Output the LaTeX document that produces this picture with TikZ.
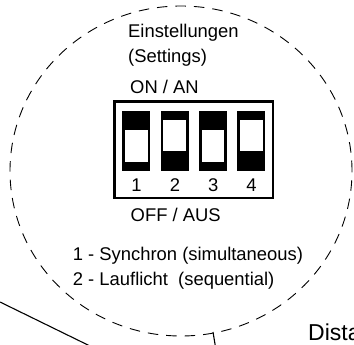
\documentclass[tikz,border=0pt]{standalone}
\usepackage{fontspec}
\setmainfont{Liberation Sans}
\usepackage{tikz}

\tikzset{
    label/.style={anchor=base west,inner sep=0pt,font=\fontsize{18.4}{21}\selectfont},
    num/.style={anchor=base,inner sep=0pt,font=\fontsize{18.4}{21}\selectfont},
    switch/.style={fill=black,inner sep=0pt,minimum width=28pt,minimum height=60pt},
    slot/.style={fill=white,inner sep=0pt,minimum width=22.5pt,minimum height=31.5pt},
}

\begin{document}
\begin{tikzpicture}[x=1pt,y=-1pt]
    \useasboundingbox (0,0) rectangle (354,345);
    \clip (0,0) rectangle (354,345);
    % dashed circle round the settings
    \draw[line width=0.9pt,dash pattern=on 10.5pt off 8pt] (181,171) ellipse [x radius=171pt, y radius=165pt];
    \node[label] (title) at (128,37.5) {Einstellungen};
    \node[label] (settings) at (128,63) {(Settings)};
    \node[label] (on) at (130,94) {ON / AN};
    % DIP switch block
    \draw[line width=2.7pt] (114.7,101.3) rectangle (272.9,198);
    \node[switch] (s1) at (136.3,141) {};
    \node[switch] (s2) at (174.7,141) {};
    \node[switch] (s3) at (213,141) {};
    \node[switch] (s4) at (251.3,141) {};
    \node[slot] (w1) at (136.3,145.9) {};
    \node[slot] (w2) at (174.7,135.3) {};
    \node[slot] (w3) at (213,145.9) {};
    \node[slot] (w4) at (251.3,135.3) {};
    \node[num] (n1) at (136.5,191) {1};
    \node[num] (n2) at (174.9,191) {2};
    \node[num] (n3) at (213.2,191) {3};
    \node[num] (n4) at (251.5,191) {4};
    \node[label] (off) at (130.5,221.7) {OFF / AUS};
    \node[label] (mode1) at (72.7,260) {1 - Synchron (simultaneous)};
    \node[label] (mode2) at (72.7,285) {2 - Lauflicht\ \ (sequential)};
    % lines running out of the picture
    \coordinate (l1) at (0,302);
    \coordinate (l2) at (92,347);
    \coordinate (t1) at (213,332);
    \coordinate (t2) at (215.5,347);
    \draw[line width=1.1pt] (l1) -- (l2);
    \draw[line width=1.1pt] (t1) -- (t2);
    \node[anchor=base west,inner sep=0pt,font=\fontsize{23}{26}\selectfont] (dist) at (308,340) {Dista};
\end{tikzpicture}
\end{document}
